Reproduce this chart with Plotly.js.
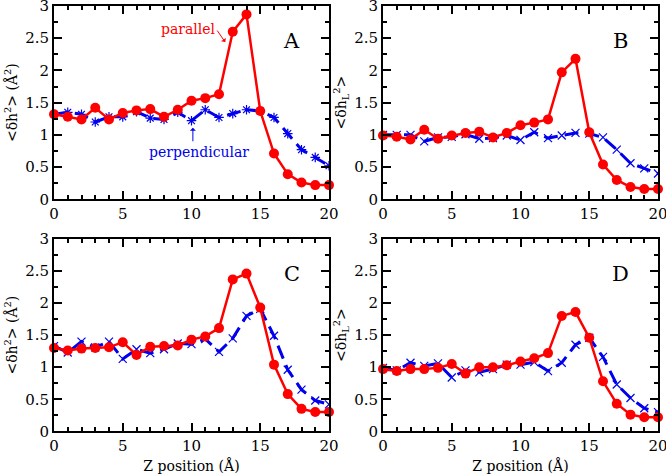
<!DOCTYPE html>
<html>
<head>
<meta charset="utf-8">
<script src="https://cdn.plot.ly/plotly-3.0.1.min.js"></script>
<style>html,body{margin:0;padding:0;background:#fff}#chart{width:666px;height:476px}</style>
</head>
<body>
<div id="chart"></div>
<script>
const zPos = [0,1,2,3,4,5,6,7,8,9,10,11,12,13,14,15,16,17,18,19,20];

const parA = [1.32,1.28,1.24,1.42,1.24,1.34,1.38,1.40,1.28,1.39,1.53,1.57,1.63,2.60,2.87,1.37,0.71,0.39,0.26,0.22,0.22];
const perpA = [1.32,1.35,1.32,1.20,1.28,1.28,1.36,1.26,1.24,1.35,1.22,1.39,1.27,1.33,1.39,1.37,1.27,1.02,0.77,0.65,0.52];

const parB = [0.99,0.97,0.93,1.08,0.94,0.99,1.03,1.05,0.96,1.03,1.15,1.19,1.24,1.97,2.18,1.04,0.54,0.30,0.19,0.16,0.16];
const perpB = [1.00,1.00,1.00,0.90,0.96,0.97,1.01,0.94,0.95,0.99,0.92,1.04,0.95,0.99,1.03,1.02,0.96,0.77,0.56,0.48,0.40];

const parC = [1.30,1.26,1.29,1.30,1.31,1.39,1.19,1.32,1.33,1.34,1.43,1.48,1.61,2.37,2.46,1.93,1.04,0.58,0.35,0.30,0.30];
const perpC = [1.33,1.23,1.40,1.31,1.40,1.13,1.28,1.22,1.28,1.37,1.36,1.44,1.24,1.45,1.80,1.91,1.49,0.96,0.65,0.48,0.42];

const parD = [0.97,0.94,0.97,0.97,0.99,1.05,0.90,1.00,1.00,1.03,1.09,1.14,1.22,1.80,1.86,1.46,0.78,0.43,0.26,0.22,0.22];
const perpD = [0.99,0.95,1.07,1.02,1.06,0.84,0.95,0.92,0.97,1.04,1.04,1.08,0.94,1.07,1.35,1.46,1.16,0.73,0.52,0.36,0.30];

const panelLabels = ['A','B','C','D'];
const xTitle = 'Z position (Å)';
const yTitleH = '&lt;δh<sup>2</sup>&gt; (Å<sup>2</sup>)';
const yTitleL = '&lt;δh<sub>L</sub><sup>2</sup>&gt;';

const RED = '#ff0000';
const BLUE = '#0000ee';
const FONT = 'DejaVu Serif';

const panels = [
  {par: parA, perp: perpA, sym: 'asterisk-open', xa: 'x', ya: 'y'},
  {par: parB, perp: perpB, sym: 'x-thin-open', xa: 'x2', ya: 'y2'},
  {par: parC, perp: perpC, sym: 'x-thin-open', xa: 'x3', ya: 'y3'},
  {par: parD, perp: perpD, sym: 'x-thin-open', xa: 'x4', ya: 'y4'}
];

const traces = [];
panels.forEach(p => {
  traces.push({
    x: zPos, y: p.perp, xaxis: p.xa, yaxis: p.ya, type: 'scatter', mode: 'lines+markers',
    line: {color: BLUE, width: 3, dash: '14px,7px'},
    marker: {symbol: p.sym, size: 8, color: BLUE, line: {color: BLUE, width: 1.2}},
    showlegend: false, cliponaxis: true
  });
  traces.push({
    x: zPos, y: p.par, xaxis: p.xa, yaxis: p.ya, type: 'scatter', mode: 'lines+markers',
    line: {color: RED, width: 2.5},
    marker: {symbol: 'circle', size: 10, color: RED},
    showlegend: false, cliponaxis: false
  });
});

function xax(domain, anchor, showTitle) {
  return {
    domain: domain, anchor: anchor, range: [0, 20], tick0: 0, dtick: 5,
    ticks: 'inside', ticklen: 8, tickwidth: 2, tickcolor: '#000',
    minor: {ticks: 'inside', dtick: 1, ticklen: 4, tickwidth: 2, tickcolor: '#000'},
    showline: true, linewidth: 2, linecolor: '#000', mirror: 'allticks',
    showgrid: false, zeroline: false, ticklabeloverflow: 'allow',
    tickfont: {family: FONT, size: 15, color: '#000'},
    title: showTitle ? {text: xTitle, font: {family: FONT, size: 14, color: '#000'}, standoff: 7} : {text: ''}
  };
}
function yax(domain, anchor, titleText) {
  return {
    domain: domain, anchor: anchor, range: [0, 3], tick0: 0, dtick: 0.5,
    ticks: 'inside', ticklen: 8, tickwidth: 2, tickcolor: '#000',
    minor: {ticks: 'inside', dtick: 0.25, ticklen: 4, tickwidth: 2, tickcolor: '#000'},
    showline: true, linewidth: 2, linecolor: '#000', mirror: 'allticks',
    showgrid: false, zeroline: false, ticklabeloverflow: 'allow',
    tickfont: {family: FONT, size: 15, color: '#000'},
    title: {text: titleText, font: {family: FONT, size: 14, color: '#000'}, standoff: 4}
  };
}

const xL = [54/666, 329/666], xR = [383/666, 658/666];
const yT = [(476-199.3)/476, (476-6)/476], yB = [(476-431.3)/476, (476-239)/476];

const annotations = [];
const labelPos = [['x','y',17.3,2.45],['x2','y2',17.3,2.45],['x3','y3',17.3,2.45],['x4','y4',17.3,2.45]];
labelPos.forEach((lp, i) => {
  annotations.push({xref: lp[0], yref: lp[1], x: lp[2], y: lp[3], text: panelLabels[i], showarrow: false,
    font: {family: FONT, size: 21, color: '#000'}});
});
annotations.push({xref: 'x', yref: 'y', x: 9.75, y: 2.65, text: 'parallel', showarrow: false,
  font: {family: FONT, size: 14, color: RED}});
annotations.push({xref: 'x', yref: 'y', x: 12.45, y: 2.44, text: '', showarrow: true, ax: -9, ay: -13,
  arrowhead: 1, arrowsize: 1, arrowwidth: 1, arrowcolor: RED});
annotations.push({xref: 'x', yref: 'y', x: 10.55, y: 0.74, text: 'perpendicular', showarrow: false,
  font: {family: FONT, size: 14, color: BLUE}});
annotations.push({xref: 'x', yref: 'y', x: 10.1, y: 1.11, text: '', showarrow: true, ax: 0, ay: 15,
  arrowhead: 1, arrowsize: 1, arrowwidth: 1, arrowcolor: BLUE});

const layout = {
  width: 666, height: 476,
  margin: {l: 0, r: 0, t: 0, b: 0},
  paper_bgcolor: '#fff', plot_bgcolor: '#fff',
  font: {family: FONT, color: '#000'},
  xaxis: xax(xL, 'y', false),
  yaxis: yax(yT, 'x', yTitleH),
  xaxis2: xax(xR, 'y2', false),
  yaxis2: yax(yT, 'x2', yTitleL),
  xaxis3: xax(xL, 'y3', true),
  yaxis3: yax(yB, 'x3', yTitleH),
  xaxis4: xax(xR, 'y4', true),
  yaxis4: yax(yB, 'x4', yTitleL),
  annotations: annotations,
  showlegend: false
};

Plotly.newPlot('chart', traces, layout, {displayModeBar: false, staticPlot: true});
</script>
</body>
</html>
